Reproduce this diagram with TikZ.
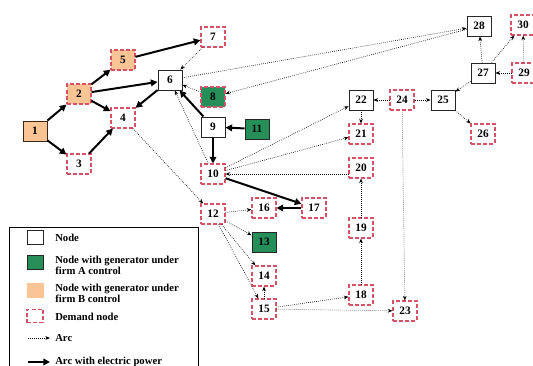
\documentclass[tikz,border=0pt]{standalone}
\usepackage{fontspec}
\setmainfont{Liberation Serif}
\usetikzlibrary{arrows.meta}
\definecolor{genorange}{RGB}{250,196,148}
\definecolor{gengreen}{RGB}{38,142,88}
\definecolor{demandred}{RGB}{212,82,102}

\begin{document}
\begin{tikzpicture}[x=0.75pt,y=0.75pt,yscale=-1,xscale=1,
  bus/.style={draw=black!85, line width=0.7pt, fill=white, minimum width=18pt, minimum height=15pt, inner sep=0pt, font=\bfseries\fontsize{8.5}{9}\selectfont},
  demand/.style={bus, draw=demandred, line width=0.8pt, dash pattern=on 3pt off 1.6pt},
  firmA/.style={fill=gengreen},
  firmB/.style={fill=genorange},
  arc/.style={densely dotted, line width=0.5pt, -{Stealth[length=3.5pt,width=2.8pt]}},
  power/.style={line width=1.5pt, -{Triangle[length=5pt,width=5pt]}},
  legtext/.style={anchor=west, align=left, font=\bfseries\fontsize{8}{8.5}\selectfont, inner sep=0pt}
]
\clip (0,0) rectangle (533,365);

% Network nodes
\node [bus, firmB, draw=black!70!brown] (n1) at (35,131) {1};
\node [demand, firmB] (n2) at (79,94) {2};
\node [demand] (n3) at (79,164) {3};
\node [demand] (n4) at (123,118) {4};
\node [demand, firmB] (n5) at (123,60) {5};
\node [bus] (n6) at (170,80) {6};
\node [demand] (n7) at (213,37) {7};
\node [demand, firmA] (n8) at (213,97) {8};
\node [bus] (n9) at (213,127) {9};
\node [demand] (n10) at (213,174) {10};
\node [bus, firmA] (n11) at (257,129) {11};
\node [demand] (n12) at (213,214) {12};
\node [bus, firmA] (n13) at (264,242) {13};
\node [demand] (n14) at (264,276) {14};
\node [demand] (n15) at (264,309) {15};
\node [demand] (n16) at (264,208) {16};
\node [demand] (n17) at (314,208) {17};
\node [demand] (n18) at (361,295) {18};
\node [demand] (n19) at (361,228) {19};
\node [demand] (n20) at (361,168) {20};
\node [demand] (n21) at (361,134) {21};
\node [bus] (n22) at (361,100) {22};
\node [demand] (n23) at (405,311) {23};
\node [demand] (n24) at (402,100) {24};
\node [bus] (n25) at (443,100) {25};
\node [demand] (n26) at (483,134) {26};
\node [bus] (n27) at (483,73) {27};
\node [bus] (n28) at (479,26) {28};
\node [demand] (n29) at (524,73) {29};
\node [demand] (n30) at (523,25) {30};

% Arcs with electric power
\draw [power] (n1) -- (n2);
\draw [power] (n1) -- (n3);
\draw [power] (n2) -- (n5);
\draw [power] (n2) -- (n6);
\draw [power] (n2) -- (n4);
\draw [power] (n3) -- (n4);
\draw [power] (n5) -- (n7);
\draw [power] (n6) -- (n4);
\draw [power] (n9) -- (n6);
\draw [power] (n9) -- (n10);
\draw [power] (n11) -- (n9);
\draw [power] (n10) -- (n17);
\draw [power] (n17) -- (n16);

% Arcs
\draw [arc] (n7) -- (n6);
\draw [arc] (n8) -- (n6);
\draw [arc] (n10) -- (n6);
\draw [arc] (n6) -- (n28);
\draw [arc] (n28) -- (n8);
\draw [arc] (n4) -- (n12);
\draw [arc] (n10) -- (n22);
\draw [arc] (n10) -- (n21);
\draw [arc] (n20.west |- n10.east) -- (n10.east);
\draw [arc] (n12) -- (n16);
\draw [arc] (n12) -- (n13);
\draw [arc] (n12) -- (n14);
\draw [arc] (n12) -- (n15);
\draw [arc] (n15) -- (n14);
\draw [arc] (n15) -- (n18);
\draw [arc] (n15) -- (n23);
\draw [arc] (n18) -- (n19);
\draw [arc] (n19) -- (n20);
\draw [arc] (n22) -- (n21);
\draw [arc] (n24) -- (n22);
\draw [arc] (n24) -- (n25);
\draw [arc] (n24) -- (n23);
\draw [arc] (n25) -- (n26);
\draw [arc] (n27) -- (n25);
\draw [arc] (n27) -- (n28);
\draw [arc] (n27) -- (n30);
\draw [arc] (n29) -- (n27);
\draw [arc] (n29) -- (n30);

% Legend
\draw [line width=0.6pt] (9,227) rectangle (198,400);
\node [bus, minimum width=12pt, minimum height=10pt] (kplain) at (35,237.5) {};
\node [bus, firmA, minimum width=12pt, minimum height=10pt] (kgreen) at (35,262.5) {};
\node [bus, firmB, draw=genorange, minimum width=12pt, minimum height=10pt] (korange) at (35,290.5) {};
\node [demand, minimum width=12pt, minimum height=10pt] (kdemand) at (35,316) {};
\coordinate (karcA) at (28,338);
\coordinate (karcB) at (50,338);
\coordinate (kpowA) at (28,362);
\coordinate (kpowB) at (50,362);
\draw [arc] (karcA) -- (karcB);
\draw [power] (kpowA) -- (kpowB);
\node [legtext] (lplain) at (55,237.5) {Node};
\node [legtext] (lgreen) at (55,265.5) {Node with generator under\\firm A control};
\node [legtext] (lorange) at (55,293.5) {Node with generator under\\firm B control};
\node [legtext] (ldemand) at (55,317) {Demand node};
\node [legtext] (larc) at (55,338) {Arc};
\node [legtext] (lpower) at (55,362) {Arc with electric power};

\end{tikzpicture}
\end{document}
